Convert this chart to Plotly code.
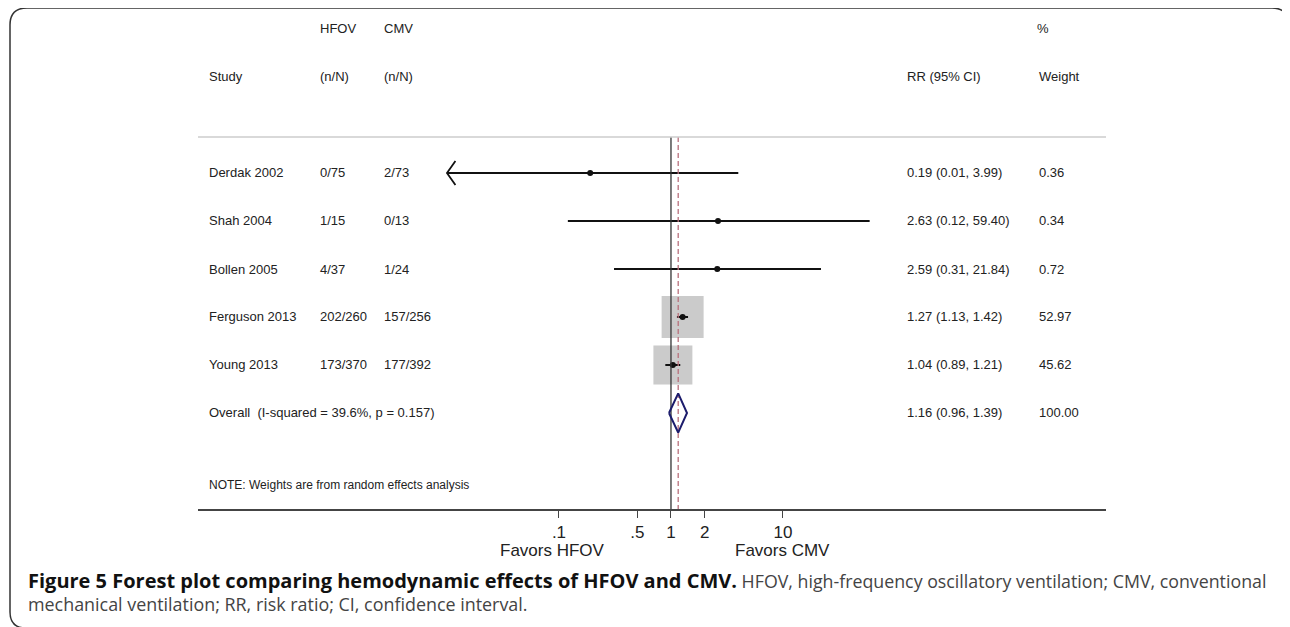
import math
import plotly.graph_objects as go

W, H = 1282, 619
OFF = 8  # page body margin

# ---- data ----
studies = ["Derdak 2002", "Shah 2004", "Bollen 2005", "Ferguson 2013", "Young 2013"]
hfov = ["0/75", "1/15", "4/37", "202/260", "173/370"]
cmv = ["2/73", "0/13", "1/24", "157/256", "177/392"]
rr = [0.19, 2.63, 2.59, 1.27, 1.04]
lo = [0.01, 0.12, 0.31, 1.13, 0.89]
hi = [3.99, 59.40, 21.84, 1.42, 1.21]
weight = [0.36, 0.34, 0.72, 52.97, 45.62]
overall_label = "Overall  (I-squared = 39.6%, p = 0.157)"
overall_rr, overall_lo, overall_hi, overall_w = 1.16, 0.96, 1.39, 100.00
tick_vals = [0.1, 0.5, 1, 2, 10]
tick_text = [".1", ".5", "1", "2", "10"]
note = "NOTE: Weights are from random effects analysis"
caption_bold = "Figure 5 Forest plot comparing hemodynamic effects of HFOV and CMV."
caption_rest1 = " HFOV, high-frequency oscillatory ventilation; CMV, conventional"
caption_line2 = "mechanical ventilation; RR, risk ratio; CI, confidence interval."


def fx(px):
    return (px - OFF) / W


def fy(py):
    return 1 - (py - OFF) / H


FONT = "Liberation Sans, Arial, sans-serif"
TXT = "#222222"

fig = go.Figure()

rows = list(range(len(studies)))
overall_row = len(studies)

# gray weight boxes
max_w = max(weight)
fig.add_trace(go.Scatter(
    x=rr, y=rows, mode="markers",
    marker=dict(symbol="square", size=[42 * math.sqrt(w / max_w) for w in weight],
                color="#b5b5b5", line=dict(width=0)),
    hoverinfo="skip", showlegend=False))

# CI lines
for i in rows:
    fig.add_trace(go.Scatter(x=[lo[i], hi[i]], y=[i, i], mode="lines",
                             line=dict(color="#111111", width=2),
                             hoverinfo="skip", showlegend=False))

# arrow for truncated lower CI (Derdak)
fig.add_trace(go.Scatter(x=[lo[0] * 1.19, lo[0], lo[0] * 1.19], y=[-0.25, 0, 0.25],
                         mode="lines", line=dict(color="#111111", width=1.8),
                         hoverinfo="skip", showlegend=False))

# point estimates
fig.add_trace(go.Scatter(x=rr, y=rows, mode="markers",
                         marker=dict(symbol="circle", size=6, color="#111111"),
                         hoverinfo="skip", showlegend=False))

# null line
fig.add_trace(go.Scatter(x=[1, 1], y=[-0.75, 7], mode="lines",
                         line=dict(color="#333333", width=1.3),
                         hoverinfo="skip", showlegend=False))
# overall dashed line
fig.add_trace(go.Scatter(x=[overall_rr, overall_rr], y=[-0.75, 7], mode="lines",
                         line=dict(color="#b9707c", width=1.3, dash="5px,3px"),
                         hoverinfo="skip", showlegend=False))

# diamond
fig.add_trace(go.Scatter(
    x=[overall_lo, overall_rr, overall_hi, overall_rr, overall_lo],
    y=[overall_row, overall_row - 0.41, overall_row, overall_row + 0.41, overall_row],
    mode="lines", line=dict(color="#1c1c6c", width=2),
    hoverinfo="skip", showlegend=False))

anns = []


def txt(x_px, row, s, size=13):
    anns.append(dict(x=fx(x_px), xref="paper", y=row, yref="y", text=s,
                     showarrow=False, xanchor="left", yanchor="middle",
                     font=dict(family=FONT, size=size, color=TXT)))


# headers
txt(318, -3, "HFOV")
txt(382, -3, "CMV")
txt(1035, -3, "%")
txt(207, -2, "Study")
txt(318, -2, "(n/N)")
txt(382, -2, "(n/N)")
txt(905, -2, "RR (95% CI)")
txt(1037, -2, "Weight")

for i in rows:
    txt(207, i, studies[i])
    txt(318, i, hfov[i])
    txt(382, i, cmv[i])
    txt(905, i, f"{rr[i]:.2f} ({lo[i]:.2f}, {hi[i]:.2f})")
    txt(1037, i, f"{weight[i]:.2f}")

txt(207, overall_row, overall_label)
txt(905, overall_row, f"{overall_rr:.2f} ({overall_lo:.2f}, {overall_hi:.2f})")
txt(1037, overall_row, f"{overall_w:.2f}")
txt(207, 6.5, note, size=12)

# favors labels
anns.append(dict(x=fx(552), xref="paper", y=fy(550), yref="paper", text="Favors HFOV",
                 showarrow=False, xanchor="center", yanchor="middle",
                 font=dict(family=FONT, size=17, color=TXT)))
anns.append(dict(x=fx(782), xref="paper", y=fy(550), yref="paper", text="Favors CMV",
                 showarrow=False, xanchor="center", yanchor="middle",
                 font=dict(family=FONT, size=17, color=TXT)))

# caption
CAPF = "Open Sans, Noto Sans, sans-serif"
anns.append(dict(x=fx(26), xref="paper", y=fy(580), yref="paper",
                 text=(f"<b><span style='font-size:20px'>{caption_bold}</span></b>"
                       f"<span style='color:#444444'>{caption_rest1}</span>"),
                 showarrow=False, xanchor="left", yanchor="middle",
                 font=dict(family=CAPF, size=17.8, color="#111111")))
anns.append(dict(x=fx(26), xref="paper", y=fy(604), yref="paper",
                 text=caption_line2,
                 showarrow=False, xanchor="left", yanchor="middle",
                 font=dict(family=CAPF, size=17.9, color="#444444")))

shapes = [
    # header separator
    dict(type="line", xref="paper", yref="y", x0=fx(198), x1=fx(1106), y0=-0.75, y1=-0.75,
         line=dict(color="#cccccc", width=1.3)),
    # outer frame
    dict(type="path", xref="paper", yref="paper",
         path=(f"M {fx(10)},{fy(612)} Q {fx(10)},{fy(628)} {fx(26)},{fy(628)} "
               f"M {fx(10)},{fy(612)} L {fx(10)},{fy(25)} "
               f"Q {fx(10)},{fy(8)} {fx(27)},{fy(8)} L {fx(1272)},{fy(8)} "
               f"Q {fx(1288)},{fy(8)} {fx(1288)},{fy(24)} L {fx(1288)},{fy(26)}"),
         line=dict(color="#333333", width=1.5)),
]

left_log = -4.223
right_log = 3.884

fig.update_layout(
    width=W, height=H,
    margin=dict(l=0, r=0, t=0, b=0),
    paper_bgcolor="white", plot_bgcolor="white",
    showlegend=False,
    annotations=anns, shapes=shapes,
    xaxis=dict(type="log", range=[left_log, right_log], domain=[fx(198), fx(1106)],
               tickvals=tick_vals, ticktext=tick_text,
               showline=True, linecolor="#444444", linewidth=1.5,
               ticks="outside", ticklen=7, tickwidth=1.3, tickcolor="#444444",
               showgrid=False, zeroline=False,
               tickfont=dict(family=FONT, size=17, color=TXT)),
    yaxis=dict(range=[7, -3.3], domain=[fy(509), fy(14.6)], visible=False,
               showgrid=False, zeroline=False),
)

fig.write_html("out.html")
